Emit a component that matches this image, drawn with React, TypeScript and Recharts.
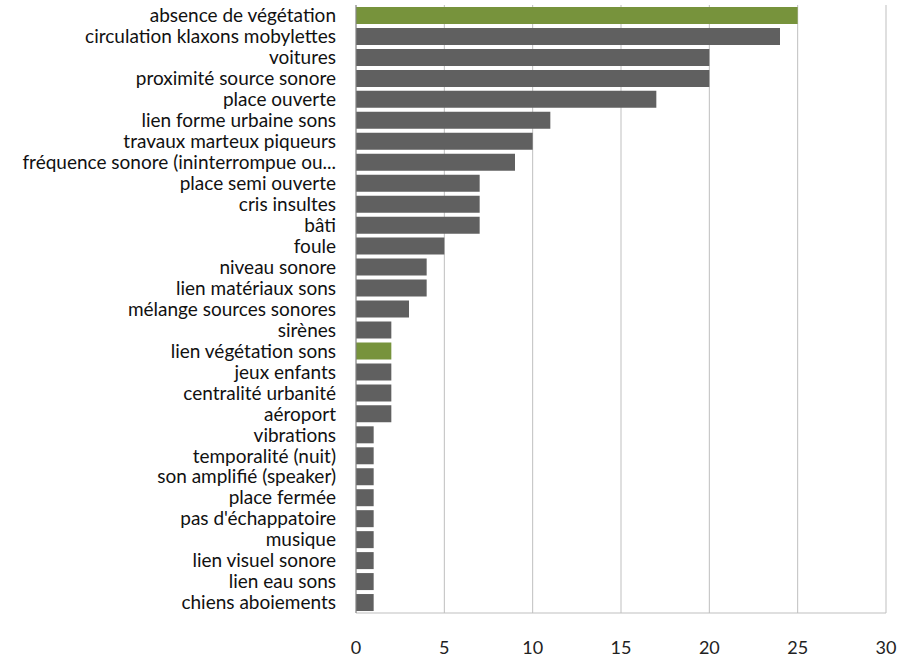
import React from 'react';
import { BarChart, Bar, XAxis, YAxis, CartesianGrid, Cell } from 'recharts';

const categories = [
  'absence de végétation',
  'circulation klaxons mobylettes',
  'voitures',
  'proximité source sonore',
  'place ouverte',
  'lien forme urbaine sons',
  'travaux marteux piqueurs',
  'fréquence sonore (ininterrompue ou...',
  'place semi ouverte',
  'cris insultes',
  'bâti',
  'foule',
  'niveau sonore',
  'lien matériaux sons',
  'mélange sources sonores',
  'sirènes',
  'lien végétation sons',
  'jeux enfants',
  'centralité urbanité',
  'aéroport',
  'vibrations',
  'temporalité (nuit)',
  'son amplifié (speaker)',
  'place fermée',
  "pas d'échappatoire",
  'musique',
  'lien visuel sonore',
  'lien eau sons',
  'chiens aboiements',
];

const counts = [25, 24, 20, 20, 17, 11, 10, 9, 7, 7, 7, 5, 4, 4, 3, 2, 2, 2, 2, 2, 1, 1, 1, 1, 1, 1, 1, 1, 1];

// categories drawn in green, the rest grey
const highlighted = ['absence de végétation', 'lien végétation sons'];

const xTicks = [0, 5, 10, 15, 20, 25, 30];

const data = categories.map((name, i) => ({ name, value: counts[i] }));

const GREY = '#606060';
const GREEN = '#77933c';
const FONT = 'Lato, "Liberation Sans", sans-serif';

const App: React.FC = () => {
  return (
    <div style={{ position: 'absolute', left: 0, top: 0, width: 915, height: 657, background: '#fff' }}>
      <BarChart
        width={915}
        height={657}
        data={data}
        layout="vertical"
        margin={{ top: 5, right: 29, bottom: 0, left: 0 }}
        barSize={17}
      >
        <CartesianGrid horizontal={false} stroke="#bfbfbf" />
        <XAxis
          type="number"
          domain={[0, 30]}
          ticks={xTicks}
          interval={0}
          height={44}
          axisLine={{ stroke: '#bfbfbf' }}
          tickLine={false}
          tickMargin={22}
          tick={{ fontSize: 18, fill: '#222', fontFamily: FONT }}
        />
        <YAxis
          type="category"
          dataKey="name"
          width={356}
          interval={0}
          axisLine={{ stroke: '#868686' }}
          tickLine={false}
          tickMargin={14}
          tick={{ fontSize: 19, fill: '#111', fontFamily: FONT }}
        />
        <Bar dataKey="value" isAnimationActive={false}>
          {data.map((d, i) => (
            <Cell key={`c-${i}`} fill={highlighted.includes(d.name) ? GREEN : GREY} />
          ))}
        </Bar>
      </BarChart>
    </div>
  );
};

export default App;
